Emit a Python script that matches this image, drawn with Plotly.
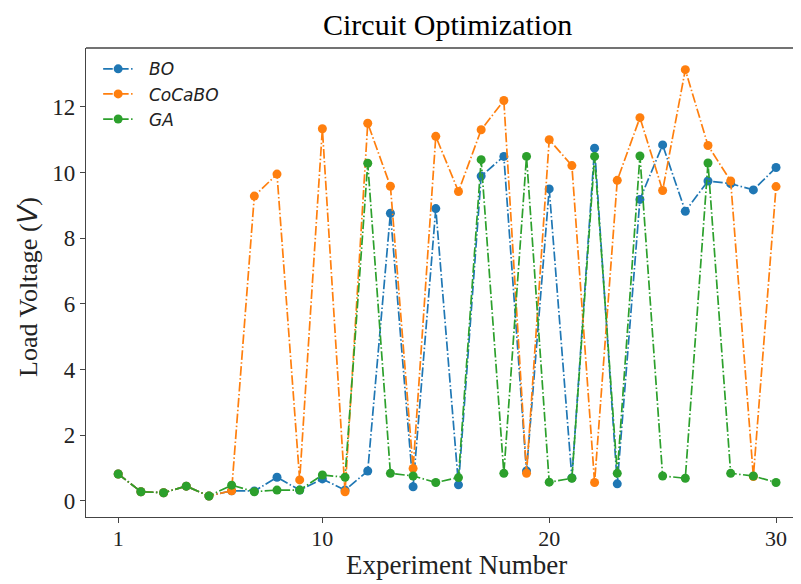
import plotly.graph_objects as go

experiments = list(range(1, 31))
bo = [0.82, 0.28, 0.25, 0.45, 0.15, 0.31, 0.30, 0.72, 0.33, 0.67,
      0.33, 0.91, 8.76, 0.43, 8.90, 0.49, 9.89, 10.49, 0.91, 9.50,
      0.70, 10.74, 0.52, 9.18, 10.84, 8.82, 9.74, 9.66, 9.47, 10.15]
cocabo = [0.82, 0.28, 0.25, 0.45, 0.15, 0.31, 9.28, 9.95, 0.64, 11.33,
          0.28, 11.50, 9.58, 0.99, 11.10, 9.42, 11.30, 12.19, 0.84, 11.00,
          10.21, 0.56, 9.76, 11.67, 9.45, 13.13, 10.82, 9.74, 0.74, 9.57]
ga = [0.82, 0.28, 0.25, 0.45, 0.15, 0.48, 0.28, 0.33, 0.33, 0.79,
      0.72, 10.28, 0.84, 0.76, 0.56, 0.71, 10.39, 0.84, 10.49, 0.57,
      0.69, 10.49, 0.84, 10.50, 0.76, 0.69, 10.29, 0.84, 0.76, 0.56]

series = [("BO", bo, "#1f77b4"), ("CoCaBO", cocabo, "#ff7f0e"), ("GA", ga, "#2ca02c")]
x_ticks = [1, 10, 20, 30]
y_ticks = [0, 2, 4, 6, 8, 10, 12]

fig = go.Figure()
for name, vals, col in series:
    fig.add_trace(go.Scatter(
        x=experiments, y=vals, mode="lines+markers", name=f"&nbsp;&nbsp;<i>{name}</i>",
        line=dict(color=col, width=1.7, dash="9.6px,2.4px,1.5px,2.4px"),
        marker=dict(color=col, size=9, symbol="circle"),
    ))

serif = "Liberation Serif"
OFF = 8  # default page body margin of the browser
W, H = 801 - OFF, 584 - OFF
L, R, T, B = 86 - OFF, 0, 48 - OFF, 67
pw, ph = W - L - R, H - T - B


def px(xp):
    return (xp - OFF - L) / pw


def py(yp):
    return (H - B - (yp - OFF)) / ph


fig.update_layout(
    width=W, height=H,
    margin=dict(l=L, r=R, t=T, b=B),
    paper_bgcolor="white", plot_bgcolor="white",
    showlegend=True,
    legend=dict(x=0.017, y=0.993, xanchor="left", yanchor="top",
                font=dict(family="DejaVu Sans", size=17, color="#222"),
                bgcolor="rgba(255,255,255,0)", tracegroupgap=0),
    shapes=[dict(type="line", xref="paper", yref="paper", x0=0, x1=1, y0=1, y1=1,
                 line=dict(color="#444", width=1.3))],
    annotations=[
        dict(text="Circuit Optimization", xref="paper", yref="paper",
             x=px(447), y=py(25), xanchor="center", yanchor="middle", showarrow=False,
             font=dict(family=serif, size=30, color="black")),
        dict(text="Experiment Number", xref="paper", yref="paper",
             x=px(456), y=py(565), xanchor="center", yanchor="middle", showarrow=False,
             font=dict(family=serif, size=27, color="#222")),
        dict(text="Load Voltage (<i><span style=\"font-family:'DejaVu Sans'\">V</span></i>)",
             xref="paper", yref="paper", textangle=-90,
             x=px(28), y=py(287), xanchor="center", yanchor="middle", showarrow=False,
             font=dict(family=serif, size=26, color="#222")),
    ],
)
fig.update_xaxes(
    range=[-0.42, 31.1], tickvals=x_ticks, ticktext=[str(t) for t in x_ticks],
    showgrid=False, zeroline=False, showline=True, linecolor="#444", linewidth=1.3,
    ticks="outside", ticklen=5, tickcolor="#444", tickwidth=1.3, automargin=False,
    ticklabelstandoff=-4,
    tickfont=dict(family=serif, size=22, color="#222"),
)
fig.update_yaxes(
    range=[-0.49, 13.79], tickvals=y_ticks, ticktext=[str(t) for t in y_ticks],
    showgrid=False, zeroline=False, showline=True, linecolor="#444", linewidth=1.3,
    ticks="outside", ticklen=5, tickcolor="#444", tickwidth=1.3, automargin=False,
    tickfont=dict(family=serif, size=23, color="#222"),
)
fig.write_html("out.html", config={"displayModeBar": False})
